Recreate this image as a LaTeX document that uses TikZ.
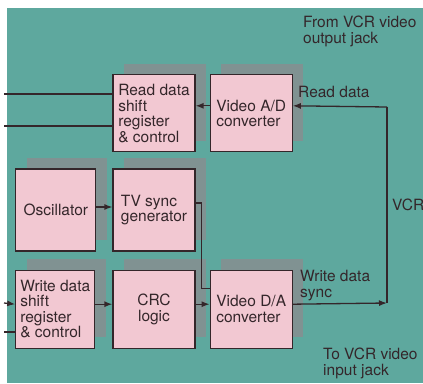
\documentclass[tikz,border=0pt]{standalone}
\usepackage{fontspec}
\setmainfont{TeX Gyre Heros}
\usetikzlibrary{arrows.meta,positioning,shadows}
\definecolor{vcrTeal}{RGB}{94,168,158}
\definecolor{vcrPink}{RGB}{242,200,210}
\definecolor{vcrShadow}{RGB}{128,146,146}
\definecolor{vcrInk}{RGB}{52,38,42}
\colorlet{panel}{vcrTeal}
\colorlet{boxpink}{vcrPink}
\colorlet{shadowgray}{vcrShadow}
\colorlet{ink}{vcrInk}

\begin{document}
\begin{tikzpicture}[x=1pt,y=-1pt,>={Latex[length=8pt,width=6pt]},
  every node/.style={text=ink,font=\fontsize{15.5}{15.5}\selectfont},
  blk/.style={draw=ink,line width=1.2pt,fill=boxpink,minimum width=82pt,minimum height=78pt,align=left,
    drop shadow={shadow xshift=11pt,shadow yshift=11pt,fill=shadowgray,opacity=1}},
  wire/.style={draw=ink,line width=1.3pt},
  arr/.style={wire,->},
  lbl/.style={inner sep=0pt,align=left}]
\useasboundingbox (0,0) rectangle (423,383);
\fill[panel] (7,8) rectangle (423,383);
\node[blk,minimum height=82pt] (tv) at (154,210) {TV sync\\generator};
\node[blk,minimum height=77pt,above=16pt of tv] (rd) {Read data\\shift\\register\\\& control};
\node[blk,minimum height=82pt,minimum width=80pt,left=16pt of tv] (osc) {Oscillator};
\node[blk,below=18pt of tv,align=center] (crc) {CRC\\logic};
\node[blk,minimum height=77pt,right=14pt of rd] (ad) {Video A/D\\converter};
\node[blk,right=14pt of crc] (da) {Video D/A\\converter};
\node[blk,minimum width=79pt,left=17pt of crc] (wr) {Write data\\shift\\register\\\& control};
\coordinate (inA) at (4,94);
\coordinate (inB) at (4,126);
\coordinate (inC) at (4,303);
\coordinate (inD) at (4,332);
\coordinate (vt) at (387,107);
\coordinate (vb) at (387,303);
\draw[wire,line width=2.4pt] (inA) -- (inA -| rd.west);
\draw[wire] (inB) -- (inB -| rd.west);
\draw[arr] ([yshift=7.5pt]ad.west) -- ([yshift=7.5pt]rd.east);
\draw[arr] (vt) -- ([yshift=7.5pt]ad.east);
\draw[wire] (vt) -- (vb);
\draw[arr] ([yshift=3pt]osc.east) -- ([yshift=3pt]tv.west);
\draw[wire] ([yshift=7pt]tv.east) -- ++(6,0) |- ([yshift=21pt]da.west);
\draw[arr] (inC) -- ([yshift=5pt]wr.west);
\draw[wire] (inD) -- (inD -| wr.west);
\draw[arr] ([yshift=5pt]wr.east) -- ([yshift=5pt]crc.west);
\draw[arr] ([yshift=5pt]crc.east) -- ([yshift=5pt]da.west);
\draw[arr] ([yshift=5pt]da.east) -- (vb);
\node[lbl,anchor=north west] (from) at (303,16) {From VCR video\\output jack};
\node[lbl,anchor=base west] (rdlbl) at (298,97) {Read data};
\node[lbl,anchor=north west] (wrlbl) at (300,270) {Write data\\sync};
\node[lbl,anchor=north west] (to) at (323,348) {To VCR video\\input jack};
\node[lbl,anchor=west] (vcr) at (392,205) {VCR};
\end{tikzpicture}
\end{document}
